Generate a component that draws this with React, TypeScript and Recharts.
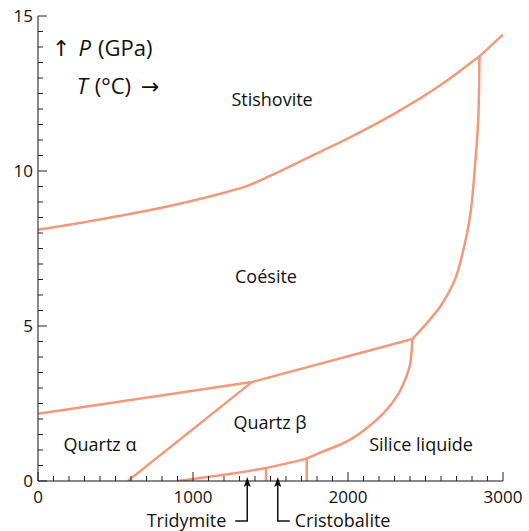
import React from "react";
import { LineChart, Line, XAxis, YAxis, ReferenceDot } from "recharts";

// ---- data (T in °C, P in GPa) ----
const coesiteStishovite = [
  { x: 0, y: 8.1 }, { x: 300, y: 8.35 }, { x: 600, y: 8.62 }, { x: 900, y: 8.93 },
  { x: 1200, y: 9.3 }, { x: 1350, y: 9.52 }, { x: 1500, y: 9.85 }, { x: 1750, y: 10.45 },
  { x: 2000, y: 11.05 }, { x: 2300, y: 11.85 }, { x: 2600, y: 12.78 }, { x: 2848, y: 13.7 },
];
const stishoviteLiquid = [{ x: 2848, y: 13.7 }, { x: 3000, y: 14.4 }];
const quartzCoesite = [{ x: 0, y: 2.17 }, { x: 1380, y: 3.19 }, { x: 2415, y: 4.58 }];
const alphaBeta = [{ x: 580, y: 0 }, { x: 1380, y: 3.19 }];
const lowerLiquidus = [
  { x: 900, y: 0 }, { x: 1200, y: 0.2 }, { x: 1471, y: 0.42 }, { x: 1600, y: 0.56 },
  { x: 1734, y: 0.73 }, { x: 1798, y: 0.87 }, { x: 1970, y: 1.22 }, { x: 2120, y: 1.7 },
  { x: 2228, y: 2.18 }, { x: 2314, y: 2.72 }, { x: 2368, y: 3.26 }, { x: 2402, y: 3.8 },
  { x: 2415, y: 4.58 },
];
const upperLiquidus = [
  { x: 2415, y: 4.58 }, { x: 2594, y: 5.62 }, { x: 2680, y: 6.38 }, { x: 2744, y: 7.45 },
  { x: 2787, y: 8.53 }, { x: 2819, y: 10.14 }, { x: 2841, y: 11.75 }, { x: 2848, y: 13.7 },
];
const tridymiteEdge = [{ x: 1471, y: 0 }, { x: 1471, y: 0.42 }];
const cristobaliteEdge = [{ x: 1734, y: 0 }, { x: 1734, y: 0.73 }];

const phaseLabels = [
  { x: 1510, y: 12.29, text: "Stishovite" },
  { x: 1471, y: 6.58, text: "Coésite" },
  { x: 1497, y: 1.9, text: "Quartz β" },
  { x: 400, y: 1.19, text: "Quartz α" },
  { x: 2471, y: 1.19, text: "Silice liquide" },
];
const arrowNotes = [
  { x: 1350, text: "Tridymite", side: "left" },
  { x: 1547, text: "Cristobalite", side: "right" },
];

const xTicks: number[] = [];
for (let v = 0; v <= 3000; v += 100) xTicks.push(v);
const yTicks: number[] = [];
for (let v = 0; v <= 15; v += 0.5) yTicks.push(v);

const LINE = "#f2997a";
const FONT = "'Open Sans', 'DejaVu Sans', sans-serif";
const TICKC = "#222";

const XTickBottom = (p: any) => {
  const v = p.payload.value;
  const major = v % 1000 === 0;
  return (
    <g>
      <line x1={p.x} x2={p.x} y1={p.y} y2={p.y - (major ? 9 : 5)} stroke={TICKC} strokeWidth={1} />
      {major && (
        <text x={p.x} y={p.y + 22} textAnchor="middle" fontSize={17} fontFamily={FONT} fill="#111">{v}</text>
      )}
    </g>
  );
};
const XTickTop = (p: any) => {
  const v = p.payload.value;
  const major = v % 1000 === 0;
  return <line x1={p.x} x2={p.x} y1={p.y} y2={p.y + (major ? 9 : 5)} stroke={TICKC} strokeWidth={1} />;
};
const YTickLeft = (p: any) => {
  const v = p.payload.value;
  const major = v % 5 === 0;
  return (
    <g>
      <line x1={p.x} x2={p.x + (major ? 9 : 5)} y1={p.y} y2={p.y} stroke={TICKC} strokeWidth={1} />
      {major && (
        <text x={p.x - 5} y={p.y + 6} textAnchor="end" fontSize={17} fontFamily={FONT} fill="#111">{v}</text>
      )}
    </g>
  );
};
const YTickRight = (p: any) => {
  const v = p.payload.value;
  const major = v % 5 === 0;
  return <line x1={p.x} x2={p.x - (major ? 9 : 5)} y1={p.y} y2={p.y} stroke={TICKC} strokeWidth={1} />;
};

const series = [
  { d: coesiteStishovite, t: "monotone" },
  { d: stishoviteLiquid, t: "linear" },
  { d: quartzCoesite, t: "linear" },
  { d: alphaBeta, t: "linear" },
  { d: lowerLiquidus, t: "monotoneY" },
  { d: upperLiquidus, t: "monotoneY" },
  { d: tridymiteEdge, t: "linear" },
  { d: cristobaliteEdge, t: "linear" },
];

export default function App() {
  return (
    <div>
      <style>{`html, body { margin: 0; padding: 0; overflow: hidden; } svg.recharts-surface { overflow: visible; }`}</style>
      <LineChart width={529} height={531} margin={{ top: 16, right: 26, left: 8, bottom: 20 }}>
        <XAxis dataKey="x" type="number" domain={[0, 3000]} ticks={xTicks} interval={0}
          tickSize={0} tickMargin={0} tickLine={false} height={30} allowDataOverflow
          axisLine={{ stroke: "#111" }} tick={<XTickBottom />} />
        <XAxis xAxisId="top" orientation="top" dataKey="x" type="number" domain={[0, 3000]} ticks={xTicks}
          interval={0} tickSize={0} tickMargin={0} tickLine={false} height={0} allowDataOverflow
          axisLine={{ stroke: "#111" }} tick={<XTickTop />} />
        <YAxis type="number" domain={[0, 15]} ticks={yTicks} interval={0} tickSize={0} tickMargin={0}
          tickLine={false} width={30} allowDataOverflow axisLine={{ stroke: "#111" }} tick={<YTickLeft />} />
        <YAxis yAxisId="right" orientation="right" type="number" domain={[0, 15]} ticks={yTicks} interval={0}
          tickSize={0} tickMargin={0} tickLine={false} width={0} allowDataOverflow
          axisLine={{ stroke: "#111" }} tick={<YTickRight />} />
        {series.map((s, i) => (
          <Line key={i} data={s.d} dataKey="y" type={s.t as any} stroke={LINE} strokeWidth={2.5}
            dot={false} activeDot={false} isAnimationActive={false} />
        ))}
        {phaseLabels.map((l) => (
          <ReferenceDot key={l.text} x={l.x} y={l.y} r={0} fill="none" stroke="none"
            label={{
              content: (props: any) => (
                <text x={props.viewBox.x} y={props.viewBox.y + 6.4} textAnchor="middle" fontSize={18}
                  fontFamily={FONT} fill="#111">{l.text}</text>
              ),
            }} />
        ))}
        <ReferenceDot x={110} y={13.97} r={0} fill="none" stroke="none"
          label={{
            content: (props: any) => (
              <text x={props.viewBox.x - 3} y={props.viewBox.y + 8} fontSize={22} fontFamily={FONT} fill="#111">
                <tspan>↑</tspan>
                <tspan dx={8} fontStyle="italic">P</tspan>
                <tspan dx={7}>(GPa)</tspan>
              </text>
            ),
          }} />
        <ReferenceDot x={250} y={12.74} r={0} fill="none" stroke="none"
          label={{
            content: (props: any) => (
              <text x={props.viewBox.x} y={props.viewBox.y + 8} fontSize={22} fontFamily={FONT} fill="#111">
                <tspan fontStyle="italic">T</tspan>
                <tspan dx={7}>(°C)</tspan>
                <tspan dx={10}>→</tspan>
              </text>
            ),
          }} />
        {arrowNotes.map((a) => (
          <ReferenceDot key={a.text} x={a.x} y={0} r={0} fill="none" stroke="none" ifOverflow="visible"
            label={{
              content: (props: any) => {
                const cx = props.viewBox.x;
                const cy = props.viewBox.y;
                const left = a.side === "left";
                const hx = left ? cx - 12 : cx + 12;
                return (
                  <g>
                    <path d={`M${cx},${cy - 4} L${cx - 3.5},${cy + 6} L${cx},${cy + 4} L${cx + 3.5},${cy + 6} Z`} fill="#111" />
                    <path d={`M${cx},${cy + 4} L${cx},${cy + 40} L${hx},${cy + 40}`} fill="none" stroke="#111" strokeWidth={1.5} />
                    <text x={left ? cx - 21 : cx + 17} y={cy + 46.4} textAnchor={left ? "end" : "start"}
                      fontSize={18} fontFamily={FONT} fill="#111">{a.text}</text>
                  </g>
                );
              },
            }} />
        ))}
      </LineChart>
    </div>
  );
}
